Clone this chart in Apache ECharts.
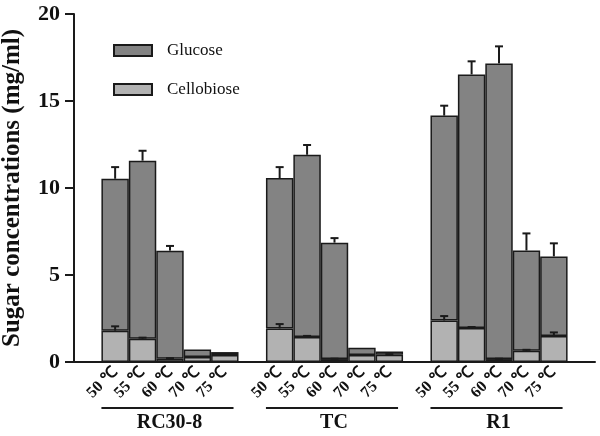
<!DOCTYPE html>
<html>
<head>
<meta charset="utf-8">
<script src="https://cdn.jsdelivr.net/npm/echarts@6/dist/echarts.min.js"></script>
<style>
html,body{margin:0;padding:0;background:#fff;}
#c{width:600px;height:436px;}
</style>
</head>
<body>
<div id="c"></div>
<script>
const groups = ['RC30-8', 'TC', 'R1'];
const temps = ['50 ℃', '55 ℃', '60 ℃', '70 ℃', '75 ℃'];
// cellobiose (bottom segment), mg/ml
const cellobiose = [
  [1.80, 1.34, 0.19, 0.29, 0.40],
  [1.93, 1.44, 0.17, 0.40, 0.42],
  [2.39, 1.95, 0.17, 0.65, 1.49]
];
// glucose (upper segment), mg/ml
const glucose = [
  [8.73, 10.23, 6.21, 0.43, 0.17],
  [8.64, 10.47, 6.69, 0.42, 0.19],
  [11.77, 14.58, 16.99, 5.76, 4.58]
];
const cellobioseErr = [
  [0.25, 0.06, 0.03, 0.00, 0.03],
  [0.25, 0.06, 0.02, 0.00, 0.03],
  [0.25, 0.06, 0.02, 0.05, 0.21]
];
const glucoseErr = [
  [0.67, 0.57, 0.27, 0.00, 0.00],
  [0.63, 0.56, 0.26, 0.00, 0.00],
  [0.57, 0.75, 0.98, 0.98, 0.75]
];
const yTicks = [0, 5, 10, 15, 20];

// build category slots: gap, 5 bars, gap, 5 bars, gap, 5 bars, gap
const cats = [''];
const cData = ['-'];
const gData = ['-'];
const errC = [];
const errG = [];
const groupSpans = [];
groups.forEach((g, gi) => {
  const start = cats.length;
  temps.forEach((t, ti) => {
    const idx = cats.length;
    cats.push(t);
    const c = cellobiose[gi][ti];
    const gl = glucose[gi][ti];
    cData.push(c);
    gData.push(gl);
    errC.push([idx, c, c + cellobioseErr[gi][ti]]);
    errG.push([idx, c + gl, c + gl + glucoseErr[gi][ti]]);
  });
  groupSpans.push([start, cats.length - 1]);
  cats.push('');
  cData.push('-');
  gData.push('-');
});

const FONT = '"Liberation Serif", "Times New Roman", serif';

function errRender(params, api) {
  const x = api.value(0);
  const lo = api.coord([x, api.value(1)]);
  const hi = api.coord([x, api.value(2)]);
  if (api.value(2) - api.value(1) <= 0) return null;
  const w = 4;
  const st = {stroke: '#1a1a1a', lineWidth: 2};
  return {
    type: 'group',
    children: [
      {type: 'line', shape: {x1: lo[0], y1: lo[1], x2: hi[0], y2: hi[1]}, style: st},
      {type: 'line', shape: {x1: hi[0] - w, y1: hi[1], x2: hi[0] + w, y2: hi[1]}, style: st}
    ]
  };
}

const chart = echarts.init(document.getElementById('c'), null, {renderer: 'canvas'});
chart.setOption({
  animation: false,
  backgroundColor: '#fff',
  grid: {left: 74, right: 5, top: 14, bottom: 74, containLabel: false, outerBoundsMode: 'none'},
  legend: {
    orient: 'vertical',
    left: 108,
    top: 37,
    itemWidth: 38,
    itemHeight: 11,
    itemGap: 22,
    icon: 'rect',
    data: ['Glucose', 'Cellobiose'],
    textStyle: {fontFamily: FONT, fontSize: 17, color: '#111', padding: [0, 0, 0, 10]}
  },
  xAxis: {
    type: 'category',
    data: cats,
    axisLine: {lineStyle: {color: '#1a1a1a', width: 2}},
    axisTick: {show: false},
    axisLabel: {
      interval: 0,
      rotate: 45,
      margin: 8,
      fontFamily: FONT,
      fontWeight: 'bold',
      fontSize: 16,
      color: '#111'
    }
  },
  yAxis: {
    type: 'value',
    min: 0,
    max: 20,
    interval: 5,
    name: 'Sugar concentrations (mg/ml)',
    nameLocation: 'middle',
    nameGap: 49,
    nameTextStyle: {fontFamily: FONT, fontWeight: 'bold', fontSize: 25, color: '#111'},
    axisLine: {show: true, lineStyle: {color: '#1a1a1a', width: 2}},
    axisTick: {show: true, length: 9, lineStyle: {color: '#1a1a1a', width: 2}},
    splitLine: {show: false},
    axisLabel: {
      fontFamily: FONT,
      fontWeight: 'bold',
      fontSize: 22,
      color: '#111',
      margin: 14,
      formatter: v => (yTicks.indexOf(v) >= 0 ? String(v) : '')
    }
  },
  series: [
    {
      name: 'Cellobiose',
      type: 'bar',
      stack: 's',
      data: cData,
      barWidth: '100%',
      itemStyle: {color: '#b2b2b2', borderColor: '#1a1a1a', borderWidth: 1.5}
    },
    {
      name: 'Glucose',
      type: 'bar',
      stack: 's',
      data: gData,
      barWidth: '100%',
      itemStyle: {color: '#838383', borderColor: '#1a1a1a', borderWidth: 1.5}
    },
    {
      type: 'custom',
      renderItem: errRender,
      data: errG,
      z: 10,
      silent: true
    },
    {
      type: 'custom',
      renderItem: errRender,
      data: errC,
      z: 10,
      silent: true
    }
  ]
});

// group underline + label from axis scale
const gfx = [];
groupSpans.forEach((sp, i) => {
  const a = chart.convertToPixel({xAxisIndex: 0}, sp[0]);
  const b = chart.convertToPixel({xAxisIndex: 0}, sp[1]);
  const y0 = chart.convertToPixel({yAxisIndex: 0}, 0);
  const bw = (b - a) / (sp[1] - sp[0]);
  const x1 = a - bw / 2;
  const x2 = b + bw / 2 - 5;
  gfx.push({
    type: 'line',
    shape: {x1: x1, y1: y0 + 46, x2: x2, y2: y0 + 46},
    style: {stroke: '#1a1a1a', lineWidth: 2}
  });
  gfx.push({
    type: 'text',
    x: (x1 + x2) / 2 + 2,
    y: y0 + 61,
    style: {
      text: groups[i],
      fontFamily: FONT,
      fontWeight: 'bold',
      fontSize: 20,
      fill: '#111',
      align: 'center',
      verticalAlign: 'middle'
    }
  });
});
chart.setOption({graphic: gfx});
</script>
</body>
</html>
